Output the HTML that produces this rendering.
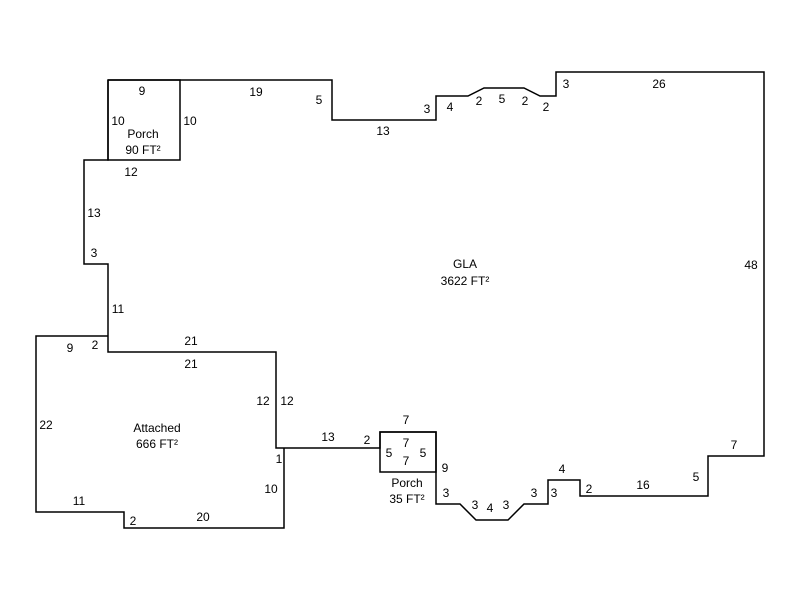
<!DOCTYPE html>
<html><head><style>
body{margin:0;background:#fff}
svg text{font-family:"Liberation Sans",Arial,sans-serif;font-size:12px;fill:#000;text-anchor:middle}
</style></head><body>
<svg width="800" height="600" xmlns="http://www.w3.org/2000/svg">
<g fill="none" stroke="#000" stroke-width="1.5">
<polyline points="108,80 332,80 332,120 436,120 436,96 468,96 484,88 524,88 540,96 556,96 556,72 764,72 764,456 708,456 708,496 580,496 580,480 548,480 548,504 524,504 508,520 476,520 460,504 436,504 436,432 380,432 380,448 276,448 276,352 108,352 108,264 84,264 84,160 108,160 108,80"/>
<rect x="108" y="80" width="72" height="80"/>
<rect x="380" y="432" width="56" height="40"/>
<polyline points="108,336 36,336 36,512 124,512 124,528 284,528 284,448"/>
</g>
<text x="142" y="95">9</text>
<text x="118" y="125">10</text>
<text x="143" y="138">Porch</text>
<text x="143" y="154">90 FT²</text>
<text x="190" y="125">10</text>
<text x="256" y="96">19</text>
<text x="319" y="104">5</text>
<text x="383" y="135">13</text>
<text x="427" y="113">3</text>
<text x="450" y="111">4</text>
<text x="479" y="105">2</text>
<text x="502" y="103">5</text>
<text x="525" y="105">2</text>
<text x="546" y="111">2</text>
<text x="566" y="88">3</text>
<text x="659" y="88">26</text>
<text x="131" y="176">12</text>
<text x="94" y="217">13</text>
<text x="94" y="257">3</text>
<text x="118" y="313">11</text>
<text x="465" y="268">GLA</text>
<text x="465" y="285">3622 FT²</text>
<text x="751" y="269">48</text>
<text x="70" y="352">9</text>
<text x="95" y="349">2</text>
<text x="191" y="345">21</text>
<text x="191" y="368">21</text>
<text x="263" y="405">12</text>
<text x="287" y="405">12</text>
<text x="46" y="429">22</text>
<text x="157" y="432">Attached</text>
<text x="157" y="448">666 FT²</text>
<text x="328" y="441">13</text>
<text x="367" y="444">2</text>
<text x="406" y="424">7</text>
<text x="389" y="457">5</text>
<text x="406" y="447">7</text>
<text x="406" y="465">7</text>
<text x="423" y="457">5</text>
<text x="445" y="472">9</text>
<text x="407" y="487">Porch</text>
<text x="407" y="503">35 FT²</text>
<text x="279" y="463">1</text>
<text x="271" y="493">10</text>
<text x="79" y="505">11</text>
<text x="133" y="525">2</text>
<text x="203" y="521">20</text>
<text x="446" y="497">3</text>
<text x="475" y="509">3</text>
<text x="490" y="512">4</text>
<text x="506" y="509">3</text>
<text x="534" y="497">3</text>
<text x="554" y="497">3</text>
<text x="562" y="473">4</text>
<text x="589" y="493">2</text>
<text x="643" y="489">16</text>
<text x="696" y="481">5</text>
<text x="734" y="449">7</text>
</svg>
</body></html>
